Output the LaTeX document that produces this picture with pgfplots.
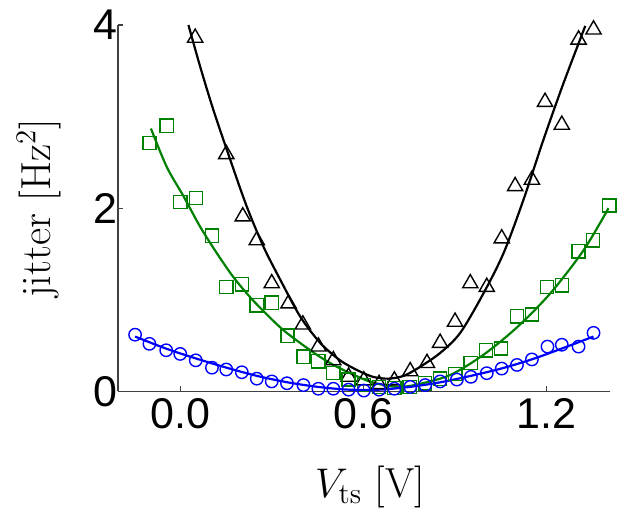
\documentclass[border=0pt]{standalone}
\usepackage{fontspec}
\usepackage{pgfplots}
\pgfplotsset{compat=1.18}
\newfontfamily\helv{Liberation Sans}
\definecolor{mgreen}{rgb}{0,0.5,0}
\begin{document}
\begin{tikzpicture}
\begin{axis}[name=ax, scale only axis, width=245.85pt, height=183.25pt,
 xmin=-0.205, xmax=1.407, ymin=0, ymax=4,
 axis x line*=bottom, axis y line*=left,
 axis line style={black!75, line width=0.9pt},
 tick align=inside, major tick length=2.5pt, tick style={black!75, line width=0.6pt},
 xtick={0,0.6,1.2}, xticklabels={0.0,0.6,1.2}, ytick={0,2,4},
 ticklabel style={font=\helv\fontsize{21.5}{24}\selectfont},
 /pgf/number format/assume math mode=true,
 yticklabel style={xshift=3pt},
 xlabel={$V_{\mathrm{ts}}$ [V]}, ylabel={jitter [Hz$^2$]},
 every axis x label/.style={at={(axis description cs:0.512,-0.288)}, anchor=base, font=\fontsize{21}{25}\selectfont},
 every axis y label/.style={at={(axis description cs:-0.138,0.5)}, anchor=base, rotate=90, font=\fontsize{21}{25}\selectfont},
 clip=false]
% black triangles
\addplot[only marks, mark=triangle, mark size=4.4pt, mark options={line width=0.7pt, black}] table {
0.047 3.86
0.149 2.59
0.203 1.91
0.249 1.65
0.298 1.18
0.353 0.96
0.400 0.73
0.451 0.49
0.500 0.34
0.550 0.16
0.600 0.12
0.650 0.08
0.700 0.12
0.752 0.22
0.807 0.31
0.850 0.53
0.899 0.76
0.949 1.18
1.003 1.14
1.052 1.67
1.096 2.24
1.151 2.31
1.194 3.16
1.249 2.91
1.304 3.84
1.353 3.95
};
\addplot[black, line width=1.1pt, smooth, no markers] table {
0.025 4.00
0.063 3.55
0.107 3.07
0.162 2.53
0.216 2.02
0.271 1.58
0.326 1.22
0.391 0.82
0.457 0.53
0.522 0.34
0.580 0.23
0.630 0.16
0.680 0.14
0.730 0.17
0.780 0.26
0.850 0.42
0.916 0.64
0.992 1.07
1.058 1.51
1.123 2.09
1.189 2.75
1.254 3.36
1.326 3.99
};
% green squares
\addplot[only marks, mark=square, mark size=3.3pt, mark options={line width=0.7pt, mgreen}] table {
-0.103 2.71
-0.046 2.90
-0.002 2.07
0.050 2.11
0.102 1.70
0.149 1.14
0.200 1.17
0.249 0.94
0.298 0.97
0.350 0.61
0.402 0.38
0.451 0.33
0.500 0.20
0.550 0.13
0.600 0.07
0.650 0.05
0.700 0.04
0.750 0.05
0.800 0.09
0.850 0.14
0.900 0.19
0.950 0.31
1.000 0.45
1.050 0.47
1.102 0.82
1.151 0.84
1.200 1.14
1.249 1.16
1.304 1.53
1.351 1.65
1.405 2.03
};
\addplot[mgreen, line width=1.1pt, smooth, no markers] table {
-0.098 2.87
-0.046 2.45
0.009 2.13
0.063 1.80
0.118 1.51
0.172 1.25
0.227 1.03
0.282 0.84
0.336 0.67
0.391 0.53
0.446 0.40
0.500 0.29
0.555 0.20
0.610 0.12
0.665 0.07
0.720 0.05
0.780 0.08
0.883 0.18
0.992 0.40
1.102 0.70
1.211 1.07
1.320 1.54
1.402 2.00
};
% blue circles
\addplot[only marks, mark=o, mark size=3.1pt, mark options={line width=0.7pt, blue}] table {
-0.150 0.62
-0.103 0.52
-0.048 0.45
-0.002 0.41
0.049 0.34
0.102 0.26
0.149 0.24
0.200 0.21
0.249 0.14
0.298 0.11
0.348 0.09
0.402 0.07
0.451 0.03
0.500 0.03
0.550 0.02
0.600 0.01
0.650 0.02
0.700 0.03
0.752 0.05
0.801 0.07
0.850 0.11
0.905 0.13
0.951 0.16
1.003 0.20
1.052 0.25
1.102 0.29
1.151 0.35
1.202 0.49
1.249 0.51
1.304 0.49
1.353 0.64
};
\addplot[blue, line width=1.1pt, smooth, no markers] table {
-0.150 0.60
-0.050 0.47
0.050 0.36
0.150 0.26
0.250 0.17
0.350 0.10
0.450 0.05
0.550 0.02
0.650 0.02
0.750 0.05
0.850 0.10
0.950 0.17
1.050 0.25
1.150 0.35
1.250 0.47
1.353 0.60
};
\end{axis}
\pgfresetboundingbox
\path ([xshift=-59.15pt,yshift=-63.25pt]ax.south west) rectangle ([xshift=11pt,yshift=12.5pt]ax.north east);
\end{tikzpicture}
\end{document}
